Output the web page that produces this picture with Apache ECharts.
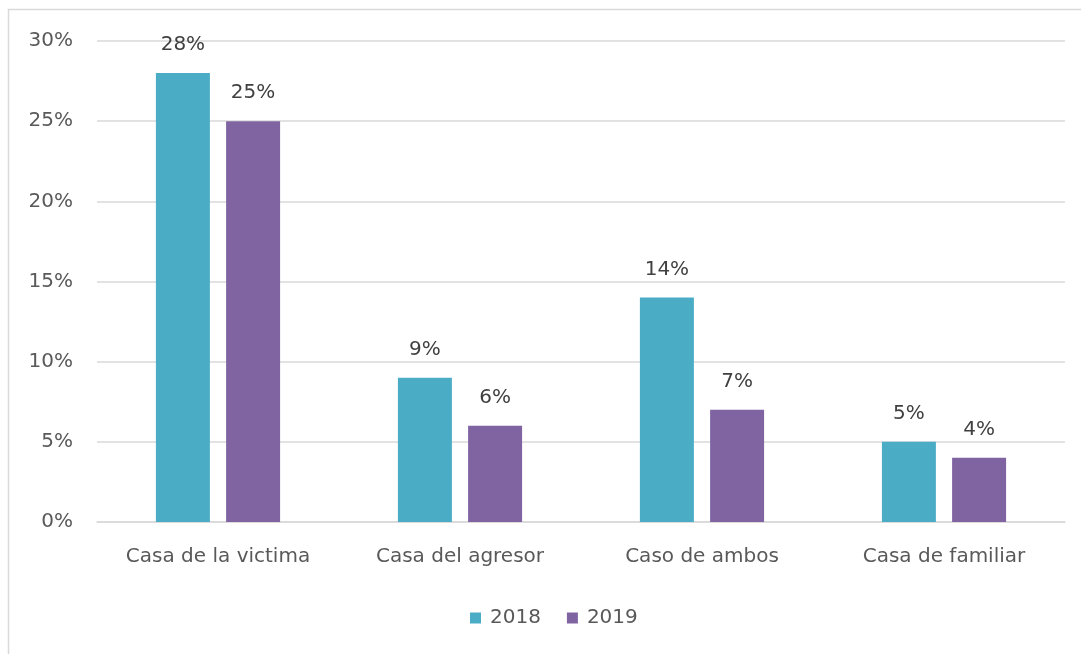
<!DOCTYPE html>
<html><head><meta charset="utf-8">
<script src="https://cdn.jsdelivr.net/npm/echarts@6/dist/echarts.min.js"></script>
<style>html,body{margin:0;padding:0;background:#fff}#c{width:1081px;height:654px}</style>
</head><body><div id="c"></div>
<script>
const categories = ["Casa de la victima", "Casa del agresor", "Caso de ambos", "Casa de familiar"];
const series2018 = [28, 9, 14, 5];
const series2019 = [25, 6, 7, 4];
const seriesNames = ["2018", "2019"];

const chart = echarts.init(document.getElementById('c'), null, {renderer: 'canvas'});
const font = '"DejaVu Sans", sans-serif';
const fs = 20;
const labelStyle = {show: true, position: 'top', distance: 18, formatter: p => p.value + '%', color: '#404040', fontSize: fs, fontFamily: font};
chart.setOption({
  animation: false,
  graphic: [{type: 'rect', shape: {x: 8.5, y: 9.5, width: 1200, height: 800}, style: {fill: 'none', stroke: '#d9d9d9', lineWidth: 1.5}, silent: true}],
  grid: {left: 97, right: 16, top: 41, bottom: 132},
  legend: {data: seriesNames, top: 603, left: 465, icon: 'rect', itemWidth: 11, itemHeight: 11, itemGap: 26,
    textStyle: {color: '#595959', fontSize: fs, fontFamily: font, padding: [0, 0, 0, 4]}},
  xAxis: {type: 'category', data: categories,
    axisLine: {lineStyle: {color: '#d9d9d9', width: 1.5}}, axisTick: {show: false},
    axisLabel: {color: '#595959', fontSize: fs, fontFamily: font, margin: 25}},
  yAxis: {type: 'value', min: 0, max: 30, interval: 5,
    axisLine: {show: false}, axisTick: {show: false},
    splitLine: {lineStyle: {color: '#d9d9d9', width: 1.5}},
    axisLabel: {formatter: v => v + '%', color: '#595959', fontSize: fs, fontFamily: font, margin: 24}},
  series: [
    {name: seriesNames[0], type: 'bar', data: series2018, barWidth: 54, barGap: '30%', itemStyle: {color: '#4BACC6'}, label: labelStyle},
    {name: seriesNames[1], type: 'bar', data: series2019, barWidth: 54, barGap: '30%', itemStyle: {color: '#8064A2'}, label: labelStyle}
  ]
});
</script></body></html>
